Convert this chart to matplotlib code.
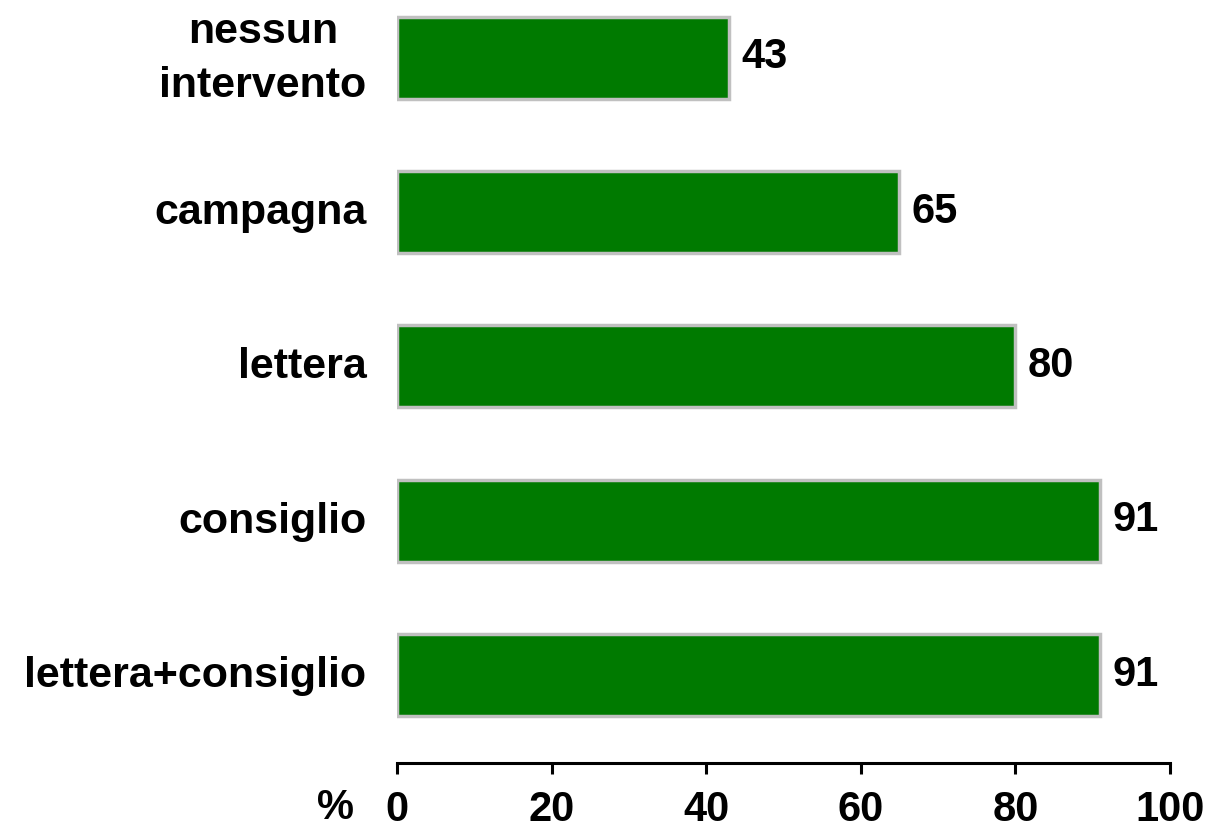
import matplotlib
matplotlib.use('Agg')
import matplotlib.pyplot as plt

categories = ['nessun\nintervento', 'campagna', 'lettera', 'consiglio', 'lettera+consiglio']
values = [43, 65, 80, 91, 91]
ticks = [0, 20, 40, 60, 80, 100]

plt.rcParams['font.family'] = ['Liberation Sans', 'DejaVu Sans']
plt.rcParams['font.weight'] = 'bold'

fig = plt.figure(figsize=(12.07, 8.29), dpi=100)
ax = fig.add_axes([0.3289, 0.0784, 0.6404, 0.9216])

pos = list(range(len(categories)))[::-1]
bars = ax.barh(pos, values, height=0.53, color='#007a00', edgecolor='#c0c0c0', linewidth=2.5)

for b, v in zip(bars, values):
    ax.annotate(str(v), (b.get_width(), b.get_y() + b.get_height() / 2),
                xytext=(9, 1), textcoords='offset points',
                ha='left', va='center', fontsize=30, fontweight='bold')

ax.set_xlim(0, 100)
ax.set_ylim(-0.57, 4.38)
ax.set_xticks(ticks)
ax.set_xticklabels([str(t) for t in ticks], fontsize=30, fontweight='bold')
ax.set_yticks(pos)
ax.set_yticklabels(categories, fontsize=31, fontweight='bold', ha='right', va='center')
for lab in ax.get_yticklabels():
    lab.set_multialignment('center')
    lab.set_linespacing(1.45)
ax.tick_params(axis='y', length=0, pad=22)
ax.tick_params(axis='x', direction='out', length=8, width=2.2, pad=11)

for s in ['top', 'right', 'left']:
    ax.spines[s].set_visible(False)
ax.spines['bottom'].set_linewidth(2.2)

fig.text(336 / 1207, 1 - 808 / 829, '%', ha='center', va='center', fontsize=30, fontweight='bold')

fig.savefig('out.png', dpi=100)
